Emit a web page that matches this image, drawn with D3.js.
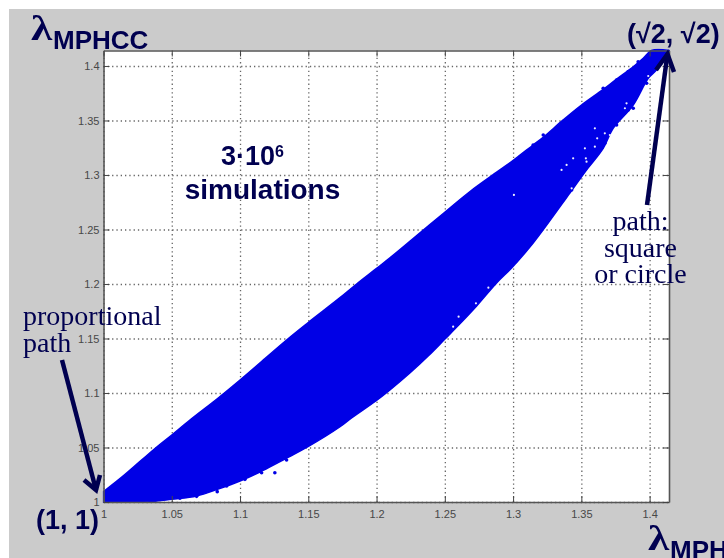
<!DOCTYPE html>
<html>
<head>
<meta charset="utf-8">
<script src="https://cdn.jsdelivr.net/npm/d3@7"></script>
<style>
  html, body { margin: 0; padding: 0; background: #fff; overflow: hidden; }
  svg { display: block; }
  .tick text { font-family: "Liberation Sans", Arial, sans-serif; font-size: 11px; fill: #484848; }
  .note { fill: #000050; }
  .sans { font-family: "Liberation Sans", Arial, sans-serif; font-weight: bold; font-size: 27px; }
  .serif { font-family: "Liberation Serif", "Times New Roman", serif; font-size: 28px; }
</style>
</head>
<body>
<div id="chart"></div>
<script>
const xTicks = [1, 1.05, 1.1, 1.15, 1.2, 1.25, 1.3, 1.35, 1.4];
const yTicks = [1, 1.05, 1.1, 1.15, 1.2, 1.25, 1.3, 1.35, 1.4];
const axisMin = 1;
const axisMax = 1.4142;

// cloud outline
const upperEdge = [
  [1, 1.0095], [1.0145, 1.0239], [1.039, 1.0505], [1.05, 1.0615], [1.0633, 1.0752],
  [1.084, 1.0954], [1.1, 1.1119], [1.1341, 1.1486], [1.1495, 1.1642], [1.173, 1.1872], [1.1854, 1.2],
  [1.1995, 1.2138], [1.2098, 1.2239], [1.2257, 1.2404], [1.2493, 1.2651], [1.268, 1.2844],
  [1.2903, 1.3046], [1.2994, 1.3128], [1.3147, 1.3275], [1.322, 1.3345], [1.3367, 1.3505],
  [1.3494, 1.3635], [1.366, 1.3785], [1.3758, 1.388], [1.388, 1.3993], [1.3953, 1.407],
  [1.4014, 1.4142], [1.4142, 1.4142]
];
const lowerEdge = [
  [1, 1], [1.034, 1.0003], [1.05, 1.0025], [1.0682, 1.0055], [1.084, 1.0119],
  [1.1, 1.0193], [1.1146, 1.0275], [1.1329, 1.0394], [1.1495, 1.0505], [1.173, 1.0688],
  [1.1817, 1.0771], [1.1995, 1.0927], [1.2098, 1.1028], [1.2244, 1.1183], [1.2378, 1.1339],
  [1.2501, 1.1495], [1.2623, 1.1651], [1.2733, 1.1798], [1.2879, 1.2009], [1.2989, 1.2147],
  [1.3147, 1.2376], [1.3416, 1.2835], [1.3494, 1.297], [1.355, 1.3065], [1.366, 1.3245],
  [1.3733, 1.3428], [1.388, 1.3642], [1.399, 1.3887], [1.405, 1.3963], [1.4142, 1.4142]
];
// stray simulations sticking out of the cloud
const strayPoints = [
  [1.056, 1.0034], [1.0682, 1.0052], [1.0833, 1.0095], [1.0902, 1.0147], [1.1036, 1.0208],
  [1.1158, 1.0269], [1.1255, 1.0269], [1.1341, 1.0385], [1.3648, 1.3245], [1.3758, 1.349],
  [1.388, 1.3612], [1.3758, 1.3872], [1.3563, 1.3673], [1.3416, 1.352], [1.3221, 1.3367],
  [1.3916, 1.4039], [1.3843, 1.3948], [1.366, 1.3795], [1.3147, 1.3275], [1.3636, 1.3245],
  [1.3672, 1.3291], [1.3489, 1.3016], [1.3429, 1.2862], [1.3758, 1.3459], [1.3843, 1.3596],
  [1.3978, 1.3841]
];
// gaps in the cloud near the top right
const gapPoints = [
  [1.3599, 1.3428], [1.3819, 1.3612], [1.3831, 1.3657], [1.3616, 1.3336], [1.3672, 1.3382],
  [1.3709, 1.3367], [1.3599, 1.326], [1.3526, 1.3245], [1.3533, 1.3153], [1.3538, 1.3122],
  [1.344, 1.3153], [1.3355, 1.3046], [1.3392, 1.3092], [1.3006, 1.2817], [1.3429, 1.2878],
  [1.399, 1.3908], [1.2819, 1.1966], [1.2601, 1.17], [1.2561, 1.1608], [1.2728, 1.1823]
];

const width = 724;
const height = 558;
const plot = { left: 103.5, right: 669, top: 50.5, bottom: 502 };
const navy = "#000050";
const blue = "#0000e6";

const x = d3.scaleLinear().domain([axisMin, axisMax]).range([plot.left, plot.right]);
const y = d3.scaleLinear().domain([axisMin, axisMax]).range([plot.bottom, plot.top]);
const plotW = plot.right - plot.left;
const plotH = plot.bottom - plot.top;

const svg = d3.select("#chart").append("svg").attr("width", width).attr("height", height);
const soft = svg.append("g").style("filter", "blur(0.35px)");

soft.append("rect").attr("x", 9).attr("y", 9).attr("width", width - 9).attr("height", height - 9).attr("fill", "#cbcbcb");
soft.append("rect").attr("x", plot.left).attr("y", plot.top).attr("width", plotW).attr("height", plotH).attr("fill", "#fff");

// dotted grid
const gridX = soft.append("g").attr("transform", `translate(0,${plot.bottom})`)
  .call(d3.axisBottom(x).tickValues(xTicks).tickSize(-plotH).tickFormat(""));
const gridY = soft.append("g").attr("transform", `translate(${plot.left},0)`)
  .call(d3.axisLeft(y).tickValues(yTicks).tickSize(-plotW).tickFormat(""));
[gridX, gridY].forEach((g) => {
  g.select(".domain").remove();
  g.selectAll("line").attr("stroke", "#666").attr("stroke-width", 1.3).attr("stroke-dasharray", "1.3,3");
});

// the cloud
const outline = d3.line().x((d) => x(d[0])).y((d) => y(d[1])).curve(d3.curveCatmullRom);
soft.append("clipPath").attr("id", "plot-clip").append("rect")
  .attr("x", plot.left - 1).attr("y", plot.top - 2).attr("width", plotW + 2).attr("height", plotH + 3);
const cloud = soft.append("g").attr("clip-path", "url(#plot-clip)");
cloud.append("path")
  .attr("d", outline(upperEdge) + "L" + outline(lowerEdge.slice().reverse()).slice(1) + "Z")
  .attr("fill", blue).attr("stroke", blue).attr("stroke-width", 1.5);
cloud.selectAll("circle.stray").data(strayPoints).join("circle").attr("class", "stray")
  .attr("cx", (d) => x(d[0])).attr("cy", (d) => y(d[1])).attr("r", 1.8).attr("fill", blue);
cloud.selectAll("circle.gap").data(gapPoints).join("circle").attr("class", "gap")
  .attr("cx", (d) => x(d[0])).attr("cy", (d) => y(d[1])).attr("r", 1.1).attr("fill", "#eef");

// axes, ticks on all four sides
function styleAxis(g) {
  g.select(".domain").attr("stroke", "#555").attr("stroke-width", 1.6);
  g.selectAll("line").attr("stroke", "#444").attr("stroke-width", 1);
}
const fmt = (d) => String(d);
soft.append("g").attr("transform", `translate(0,${plot.bottom})`)
  .call(d3.axisBottom(x).tickValues(xTicks).tickSizeInner(-6).tickSizeOuter(0).tickPadding(8).tickFormat(fmt))
  .call(styleAxis);
soft.append("g").attr("transform", `translate(${plot.left},0)`)
  .call(d3.axisLeft(y).tickValues(yTicks).tickSizeInner(-6).tickSizeOuter(0).tickPadding(4).tickFormat(fmt))
  .call(styleAxis);
soft.append("g").attr("transform", `translate(0,${plot.top})`)
  .call(d3.axisTop(x).tickValues(xTicks).tickSizeInner(-6).tickSizeOuter(0).tickFormat(""))
  .call(styleAxis);
soft.append("g").attr("transform", `translate(${plot.right},0)`)
  .call(d3.axisRight(y).tickValues(yTicks).tickSizeInner(-6).tickSizeOuter(0).tickFormat(""))
  .call(styleAxis);

// annotations
function note(cls, tx, ty, str, anchor) {
  return soft.append("text").attr("class", "note " + cls)
    .attr("x", tx).attr("y", ty).attr("text-anchor", anchor || "start").text(str);
}
function lambda(tx, ty) {
  return soft.append("text").attr("class", "note serif")
    .attr("transform", `translate(${tx},${ty}) scale(1.2,1)`)
    .style("font-size", "36px").style("font-weight", "bold").text("λ");
}
lambda(31, 40);
note("sans", 53, 49, "MPHCC").style("font-size", "26px");
lambda(648, 550);
note("sans", 670, 559, "MPHCC").style("font-size", "26px");

note("sans", 221, 165, "3·10");
note("sans", 275, 157, "6").style("font-size", "16px");
note("sans", 262.5, 199, "simulations", "middle").style("font-size", "28px");

note("serif", 23, 325, "proportional");
note("serif", 23, 352, "path");
note("sans", 36, 529, "(1, 1)");
note("sans", 627, 43, "(√2, √2)");
note("serif", 640.5, 230, "path:", "middle");
note("serif", 640.5, 257, "square", "middle");
note("serif", 640.5, 283, "or circle", "middle");

function arrow(x0, y0, x1, y1, bx0, by0, bx1, by1) {
  const g = soft.append("g").attr("fill", "none").attr("stroke", navy).attr("stroke-width", 4.5);
  g.append("line").attr("x1", x0).attr("y1", y0).attr("x2", x1).attr("y2", y1);
  g.append("path").attr("d", `M${bx0},${by0}L${x1},${y1}L${bx1},${by1}`).attr("stroke-linejoin", "miter");
}
arrow(62, 360, 96, 490, 84, 480, 100, 475);
arrow(647, 205, 667.5, 54, 656, 70, 674, 72);
</script>
</body>
</html>
